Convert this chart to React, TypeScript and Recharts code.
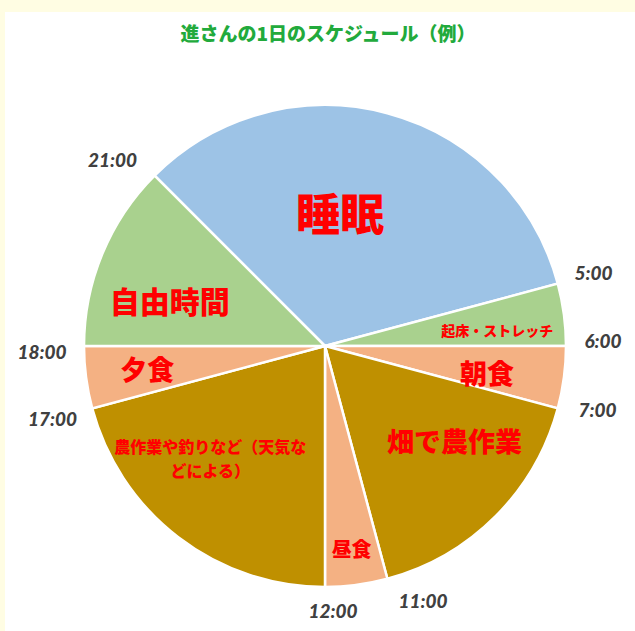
import { PieChart, Pie, Cell } from 'recharts';

const activities = ['睡眠', '起床・ストレッチ', '朝食', '畑で農作業', '昼食', '農作業や釣りなど（天気などによる）', '夕食', '自由時間'];
const hours = [8, 1, 1, 4, 1, 5, 1, 3];
const startTimes = ['21:00', '5:00', '6:00', '7:00', '11:00', '12:00', '17:00', '18:00'];
const sliceColors = ['#9DC3E6', '#A9D18E', '#F4B183', '#BF9000', '#F4B183', '#BF9000', '#F4B183', '#A9D18E'];

const chartData = activities.map((name, i) => ({ name, value: hours[i], start: startTimes[i] }));

const RAD = Math.PI / 180;

// name label placement: angle shift from mid angle, radius, font size, line breaks
const nameStyle: Record<number, { da: number; r: number; size: number; lines?: string[] }> = {
  0: { da: 8.6, r: 135, size: 44 },
  1: { da: -2.2, r: 173, size: 14 },
  2: { da: -1.5, r: 164, size: 27 },
  3: { da: 9, r: 160, size: 27 },
  4: { da: 0, r: 204, size: 20 },
  5: { da: -8.3, r: 160, size: 16, lines: ['農作業や釣りなど（天気な', 'どによる）'] },
  6: { da: -0.5, r: 179, size: 27 },
  7: { da: 6, r: 162, size: 30 },
};

// time label nudges (px) from the boundary ray
const timeNudge = [[-16, 10], [0, -2], [0, -6], [4, -8], [26, -14], [8, -14], [-4, 1], [-5, 5]];

const renderLabel = (props: any) => {
  const { cx, cy, midAngle, startAngle, index } = props;
  const s = nameStyle[index];
  const a = (midAngle + s.da) * RAD;
  const nx = cx + s.r * Math.cos(a);
  const ny = cy - s.r * Math.sin(a);
  const tr = 278;
  const tx = cx + tr * Math.cos(startAngle * RAD) + timeNudge[index][0];
  const ty = cy - tr * Math.sin(startAngle * RAD) + timeNudge[index][1];
  const lines = s.lines || [chartData[index].name];
  const lh = s.size * 1.5;
  return (
    <g>
      <text
        x={nx}
        y={ny - ((lines.length - 1) * lh) / 2}
        textAnchor="middle"
        dominantBaseline="central"
        fill="#FF0000"
        fontSize={s.size}
        fontWeight={900}
        fontFamily="'Noto Sans CJK JP', sans-serif"
      >
        {lines.map((l, i) => (
          <tspan key={i} x={nx} dy={i === 0 ? 0 : lh}>{l}</tspan>
        ))}
      </text>
      <text
        x={tx}
        y={ty}
        textAnchor="middle"
        dominantBaseline="central"
        fill="#404040"
        fontSize={19}
        fontWeight={900}
        fontStyle="italic"
        fontFamily="Lato, 'DejaVu Sans', sans-serif"
      >
        {chartData[index].start}
      </text>
    </g>
  );
};

export default function App() {
  return (
    <div style={{ position: 'absolute', left: 0, top: 0, width: 635, height: 631, background: '#FFFDE3' }}>
      <style>{'body{margin:0}'}</style>
      <div style={{ position: 'absolute', left: 5, top: 12, width: 630, height: 619, background: '#FFFFFF' }}>
        <div
          style={{
            position: 'absolute',
            left: 8,
            top: 11,
            width: 630,
            textAlign: 'center',
            lineHeight: '20px',
            fontSize: 19,
            fontWeight: 900,
            color: '#22AA3C',
            fontFamily: "'Noto Sans CJK JP', sans-serif",
          }}
        >
          進さんの1日のスケジュール（例）
        </div>
        <PieChart width={630} height={619}>
          <Pie
            data={chartData}
            dataKey="value"
            nameKey="name"
            cx={315}
            cy={329}
            outerRadius={241}
            startAngle={135}
            endAngle={-225}
            stroke="#FFFFFF"
            strokeWidth={2.5}
            label={renderLabel}
            labelLine={false}
            isAnimationActive={false}
          >
            {chartData.map((_, i) => (
              <Cell key={`cell-${i}`} fill={sliceColors[i]} />
            ))}
          </Pie>
        </PieChart>
      </div>
    </div>
  );
}
